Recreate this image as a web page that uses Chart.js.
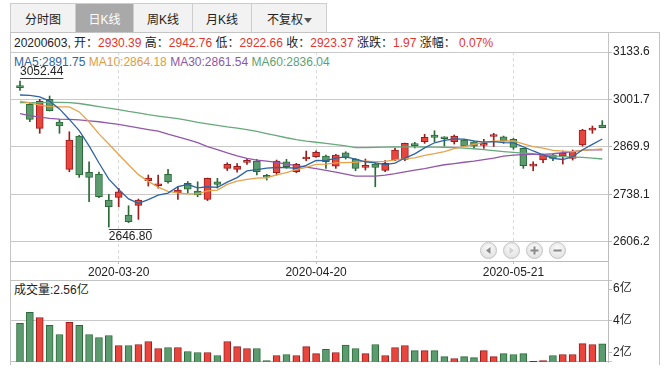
<!DOCTYPE html>
<html>
<head>
<meta charset="utf-8">
<script src="https://cdn.jsdelivr.net/npm/chart.js@4.4.1/dist/chart.umd.min.js"></script>
<style>
  body { margin: 0; background: #fff; font-family: "Liberation Sans", Arial, "Noto Sans CJK SC", sans-serif; font-size: 12px; color: #222; }
  #wrap { position: relative; width: 669px; height: 377px; overflow: hidden; }
  .ln { position: absolute; background: #c4c4c4; }
  .tab { position: absolute; top: 3px; height: 29px; line-height: 33px; text-align: center; background: #f2f2f2;
         border-left: 1px solid #cdcdcd; border-top: 1px solid #cdcdcd; box-sizing: border-box; font-size: 12px; color: #222; }
  .tab.on { background: #a9a9a9; color: #fff; }
  .txt { position: absolute; white-space: nowrap; line-height: 14px; }
  .r { color: #e3342c; }
  .btn { position: absolute; top: 242px; width: 17px; height: 17px; border-radius: 50%; box-sizing: border-box;
         border: 1px solid #c2c2c2; background: radial-gradient(circle at 50% 35%, #fafafa, #dcdcdc); }
  canvas { position: absolute; }
</style>
</head>
<body>
<div id="wrap">
  <div class="tab" style="left:10px;width:65px">分时图</div>
  <div class="tab on" style="left:75px;width:58px">日K线</div>
  <div class="tab" style="left:133px;width:59px">周K线</div>
  <div class="tab" style="left:192px;width:59px">月K线</div>
  <div class="tab" style="left:251px;width:76px;border-right:1px solid #cdcdcd;text-align:left;padding-left:15px">不复权<span style="position:absolute;left:52px;top:14px;width:0;height:0;border-left:4px solid transparent;border-right:4px solid transparent;border-top:5px solid #555"></span></div>

  <div class="ln" style="left:10px;top:32px;width:650px;height:1px"></div>
  <div class="ln" style="left:10px;top:32px;width:1px;height:333px"></div>
  <div class="ln" style="left:659px;top:32px;width:1px;height:333px"></div>
  <div class="ln" style="left:608px;top:32px;width:1px;height:330px"></div>
  <div class="ln" style="left:10px;top:280px;width:602px;height:1px"></div>
  <div class="ln" style="left:10px;top:361px;width:602px;height:1px"></div>

  <div class="txt" style="left:14px;top:36px">20200603, 开：<span class="r">2930.39</span> 高：<span class="r">2942.76</span> 低：<span class="r">2922.66</span> 收：<span class="r">2923.37</span> 涨跌：<span class="r">1.97</span> 涨幅： <span class="r">0.07%</span></div>
  <div class="txt" style="left:14px;top:55px"><span style="color:#2f64a3">MA5:2891.75</span> <span style="color:#e39a3e">MA10:2864.18</span> <span style="color:#8d57a8">MA30:2861.54</span> <span style="color:#5c9f72">MA60:2836.04</span></div>
  <div class="txt" style="left:14px;top:283px">成交量:2.56亿</div>

  <canvas id="main" width="649" height="236" style="left:10px;top:44px"></canvas>
  <canvas id="vol" width="649" height="93" style="left:10px;top:272px"></canvas>

  <div class="btn" style="left:480px"><svg width="15" height="15"><path d="M9.5 4 L5 7.5 L9.5 11 Z" fill="#8a8a8a"/></svg></div>
  <div class="btn" style="left:503px"><svg width="15" height="15"><path d="M5.5 4 L10 7.5 L5.5 11 Z" fill="#d2d2d2"/></svg></div>
  <div class="btn" style="left:526px"><svg width="15" height="15"><path d="M3.5 7.5 H11.5 M7.5 3.5 V11.5" stroke="#8a8a8a" stroke-width="2"/></svg></div>
  <div class="btn" style="left:549px"><svg width="15" height="15"><path d="M3.5 7.5 H11.5" stroke="#8a8a8a" stroke-width="2"/></svg></div>
</div>

<script>
const dates = ['2020-03-06','2020-03-09','2020-03-10','2020-03-11','2020-03-12','2020-03-13','2020-03-16','2020-03-17','2020-03-18','2020-03-19',
  '2020-03-20','2020-03-23','2020-03-24','2020-03-25','2020-03-26','2020-03-27','2020-03-30','2020-03-31','2020-04-01','2020-04-02',
  '2020-04-03','2020-04-07','2020-04-08','2020-04-09','2020-04-10','2020-04-13','2020-04-14','2020-04-15','2020-04-16','2020-04-17',
  '2020-04-20','2020-04-21','2020-04-22','2020-04-23','2020-04-24','2020-04-27','2020-04-28','2020-04-29','2020-04-30','2020-05-06',
  '2020-05-07','2020-05-08','2020-05-11','2020-05-12','2020-05-13','2020-05-14','2020-05-15','2020-05-18','2020-05-19','2020-05-20',
  '2020-05-21','2020-05-22','2020-05-25','2020-05-26','2020-05-27','2020-05-28','2020-05-29','2020-06-01','2020-06-02','2020-06-03'];

const open = [3039.9, 2988.1, 2921.4, 3002.0, 2938.9, 2807.3, 2899.9, 2799.0, 2794.2, 2721.9,
  2729.4, 2680.2, 2707.2, 2775.6, 2761.7, 2793.7, 2742.2, 2768.4, 2747.0, 2723.9,
  2772.8, 2810.1, 2807.3, 2826.8, 2830.4, 2786.2, 2797.9, 2828.5, 2800.6, 2836.0,
  2842.4, 2844.3, 2816.5, 2853.5, 2836.0, 2812.9, 2822.1, 2804.5, 2833.2, 2835.1,
  2877.1, 2884.1, 2902.7, 2896.3, 2884.1, 2888.8, 2884.1, 2874.1, 2898.6, 2898.0,
  2890.8, 2865.7, 2816.5, 2833.2, 2847.1, 2844.3, 2837.9, 2874.9, 2916.6, 2930.39];
const high = [3052.44, 2992.6, 3002.0, 3011.2, 2946.4, 2911.9, 2902.0, 2828.5, 2799.8, 2737.8,
  2754.5, 2706.1, 2724.7, 2791.5, 2791.5, 2807.3, 2758.9, 2773.4, 2772.8, 2783.1,
  2782.3, 2825.7, 2823.5, 2837.4, 2835.1, 2793.4, 2833.2, 2835.1, 2824.0, 2858.2,
  2859.1, 2847.1, 2849.0, 2856.3, 2837.4, 2836.0, 2825.7, 2831.8, 2865.7, 2880.5,
  2882.4, 2904.7, 2914.7, 2898.0, 2902.7, 2890.8, 2885.0, 2890.8, 2907.5, 2899.9,
  2893.6, 2866.0, 2828.5, 2849.9, 2849.9, 2858.2, 2861.0, 2918.6, 2927.8, 2942.76];
const low = [3027.0, 2939.7, 2907.5, 2969.5, 2907.5, 2800.6, 2785.1, 2717.2, 2728.9, 2646.80,
  2703.3, 2659.3, 2668.2, 2760.9, 2755.3, 2769.2, 2723.9, 2741.4, 2731.1, 2720.5,
  2755.3, 2804.0, 2799.8, 2820.7, 2791.5, 2777.6, 2791.5, 2810.1, 2797.9, 2831.2,
  2840.7, 2810.1, 2810.1, 2836.0, 2803.4, 2805.4, 2758.9, 2800.6, 2831.2, 2831.2,
  2866.6, 2879.6, 2884.1, 2872.1, 2877.7, 2870.2, 2865.7, 2865.7, 2870.9, 2879.6,
  2863.0, 2810.1, 2803.4, 2825.7, 2831.2, 2822.1, 2833.2, 2872.1, 2907.5, 2922.66];
const close = [3034.5, 2946.4, 2997.3, 2970.3, 2927.8, 2888.8, 2791.5, 2785.1, 2731.1, 2703.3,
  2745.0, 2661.6, 2721.9, 2783.1, 2767.0, 2773.4, 2749.7, 2752.5, 2736.4, 2782.3,
  2765.6, 2821.5, 2815.9, 2829.9, 2800.6, 2785.3, 2830.4, 2814.5, 2821.2, 2840.1,
  2854.6, 2828.5, 2847.1, 2839.6, 2810.1, 2816.5, 2812.9, 2824.0, 2861.0, 2879.6,
  2873.5, 2896.3, 2896.3, 2892.4, 2899.9, 2872.1, 2872.1, 2877.7, 2899.9, 2886.9,
  2868.5, 2817.3, 2819.3, 2847.1, 2837.9, 2851.8, 2856.3, 2916.6, 2921.4, 2923.37];

// volume in 亿
const volume = [3.84, 4.53, 4.21, 3.71, 3.14, 3.90, 3.71, 3.14, 2.95, 3.08,
  2.45, 2.45, 2.51, 2.70, 2.26, 2.32, 2.32, 2.07, 2.01, 2.01,
  1.82, 2.70, 2.38, 2.26, 2.26, 1.50, 1.82, 1.88, 1.82, 2.38,
  1.94, 2.20, 2.01, 2.47, 2.26, 1.94, 2.51, 1.82, 2.32, 2.45,
  2.13, 2.13, 2.13, 1.75, 1.63, 1.75, 1.69, 2.13, 1.75, 1.94,
  1.88, 1.94, 1.46, 1.50, 1.82, 1.88, 1.88, 2.57, 2.51, 2.56];

const ma5 = [3014.0, 3013.0, 3009.0, 2997.0, 2975.4, 2946.1, 2915.1, 2872.7, 2824.9, 2780.0,
  2751.2, 2725.2, 2712.6, 2723.0, 2735.7, 2741.4, 2759.0, 2765.1, 2755.8, 2758.9,
  2757.3, 2771.7, 2784.3, 2803.0, 2806.7, 2810.6, 2812.4, 2812.1, 2810.4, 2818.3,
  2832.2, 2831.8, 2838.3, 2842.0, 2836.0, 2828.4, 2825.2, 2820.6, 2824.9, 2838.8,
  2850.2, 2866.9, 2881.3, 2887.6, 2891.7, 2891.4, 2886.6, 2882.8, 2884.3, 2881.7,
  2881.0, 2870.1, 2858.4, 2847.8, 2838.0, 2834.7, 2842.5, 2861.9, 2876.8, 2891.75];
const ma10 = [2997.0, 2992.0, 2986.0, 2982.0, 2981.0, 2981.0, 2967.0, 2939.0, 2906.0, 2877.7,
  2848.7, 2820.2, 2792.6, 2773.9, 2757.8, 2746.3, 2742.1, 2738.9, 2739.4, 2747.3,
  2749.4, 2765.3, 2774.7, 2779.4, 2782.8, 2784.0, 2792.0, 2798.2, 2806.7, 2812.5,
  2821.4, 2822.1, 2825.2, 2826.2, 2827.1, 2830.3, 2828.5, 2829.5, 2833.4, 2837.4,
  2839.3, 2846.1, 2851.0, 2856.3, 2865.2, 2870.8, 2876.7, 2882.1, 2886.0, 2886.7,
  2886.2, 2878.3, 2870.6, 2866.1, 2859.9, 2857.9, 2856.3, 2860.2, 2862.3, 2864.18];
const ma30 = [2962.5, 2956.4, 2952.8, 2949.2, 2947.2, 2946.1, 2945.0, 2942.2, 2939.7, 2936.1,
  2932.5, 2927.8, 2922.8, 2918.0, 2913.3, 2905.0, 2897.7, 2890.2, 2881.9, 2870.7,
  2862.4, 2853.2, 2844.9, 2837.9, 2833.2, 2830.4, 2826.8, 2822.1, 2817.9, 2813.7,
  2809.5, 2804.5, 2799.8, 2794.2, 2788.7, 2788.7, 2788.7, 2791.5, 2795.6, 2800.4,
  2805.4, 2809.5, 2815.1, 2820.1, 2823.5, 2827.1, 2830.4, 2834.6, 2838.8, 2844.3,
  2847.1, 2848.5, 2849.0, 2849.0, 2850.7, 2853.5, 2856.8, 2860.2, 2862.4, 2861.54];
const ma60 = [2992.6, 2992.6, 2993.1, 2993.7, 2993.7, 2992.9, 2990.4, 2986.2, 2982.0, 2977.8,
  2973.4, 2968.4, 2964.5, 2959.5, 2955.6, 2951.7, 2948.3, 2943.6, 2938.0, 2933.9,
  2929.7, 2925.5, 2922.2, 2918.0, 2912.7, 2906.9, 2901.3, 2895.2, 2890.2, 2886.0,
  2882.7, 2879.6, 2876.3, 2872.7, 2868.0, 2867.6, 2868.4, 2869.0, 2869.4, 2869.6,
  2869.6, 2869.4, 2869.2, 2868.8, 2868.0, 2866.6, 2864.6, 2862.0, 2859.1, 2856.6,
  2854.6, 2852.7, 2850.7, 2846.5, 2844.6, 2842.9, 2841.5, 2840.4, 2838.8, 2836.04];

const priceTicks = [2606.2, 2738.1, 2869.9, 3001.7, 3133.6];
const volumeTicks = [2, 4, 6];
const tickDates = ['2020-03-20', '2020-04-20', '2020-05-21'];

const RED = '#e8453c', RED_EDGE = '#9c1b1b';
const GREEN = '#5b9b6f', GREEN_EDGE = '#2a6a36';
const GRID = '#c9c9c9', AXIS = '#bcbcbc';

const up = dates.map((d, i) => close[i] >= open[i]);
const fills = up.map(u => u ? RED : GREEN);
const edges = up.map(u => u ? RED_EDGE : GREEN_EDGE);

const xMin = -1.013, xMax = 59.58;

Chart.defaults.font.family = '"Liberation Sans", Arial, "Noto Sans CJK SC", sans-serif';
Chart.defaults.font.size = 12;
Chart.defaults.color = '#222';

function maLine(values, color) {
  return {
    type: 'line',
    data: values.map((v, i) => ({ x: i, y: v })),
    borderColor: color,
    borderWidth: 1.3,
    pointRadius: 0,
    fill: false,
    order: 0
  };
}

const extremaLabels = {
  id: 'extremaLabels',
  afterDatasetsDraw(chart) {
    const { ctx, scales: { x, y } } = chart;
    const hi = Math.max(...high), lo = Math.min(...low);
    const hx = x.getPixelForValue(high.indexOf(hi)), hy = y.getPixelForValue(hi);
    const lx = x.getPixelForValue(low.indexOf(lo)), ly = y.getPixelForValue(lo);
    ctx.save();
    ctx.font = '12px "Liberation Sans", Arial';
    ctx.fillStyle = '#222';
    ctx.strokeStyle = '#444';
    ctx.lineWidth = 1;
    const t1 = hi.toFixed(2), w1 = ctx.measureText(t1).width;
    ctx.textBaseline = 'bottom';
    ctx.fillText(t1, hx, hy - 4);
    ctx.beginPath();
    ctx.moveTo(hx, Math.round(hy - 3) + 0.5);
    ctx.lineTo(hx + w1, Math.round(hy - 3) + 0.5);
    ctx.stroke();
    const t2 = lo.toFixed(2), w2 = ctx.measureText(t2).width;
    ctx.textBaseline = 'top';
    ctx.fillText(t2, lx, ly + 4);
    ctx.beginPath();
    ctx.moveTo(lx, Math.round(ly + 2) + 0.5);
    ctx.lineTo(lx + w2, Math.round(ly + 2) + 0.5);
    ctx.stroke();
    ctx.restore();
  }
};

new Chart(document.getElementById('main'), {
  type: 'bar',
  data: {
    datasets: [
      maLine(ma5, '#2f64a3'),
      maLine(ma10, '#e8a24a'),
      maLine(ma30, '#9257ab'),
      maLine(ma60, '#66a97c'),
      {
        type: 'bar',
        data: dates.map((d, i) => ({ x: i, y: [open[i], close[i]] })),
        backgroundColor: fills,
        borderColor: edges,
        borderWidth: 1,
        borderSkipped: false,
        barThickness: 7,
        minBarLength: 2,
        grouped: false,
        order: 5
      },
      {
        type: 'bar',
        data: dates.map((d, i) => ({ x: i, y: [low[i], high[i]] })),
        backgroundColor: edges,
        borderWidth: 0,
        barThickness: 1,
        grouped: false,
        order: 6
      }
    ]
  },
  options: {
    responsive: false,
    animation: false,
    events: [],
    devicePixelRatio: 1,
    layout: { padding: { top: 8, left: 0, right: 0, bottom: 0 } },
    plugins: { legend: { display: false }, tooltip: { enabled: false } },
    scales: {
      x: {
        type: 'linear',
        min: xMin,
        max: xMax,
        offset: false,
        grid: { color: '#d9d9d9', offset: false, tickLength: 3, tickColor: AXIS },
        border: { display: true, color: AXIS, dash: [3, 3] },
        ticks: { autoSkip: false, maxRotation: 0, padding: 1, callback: v => dates[v] },
        afterBuildTicks: axis => { axis.ticks = tickDates.map(d => ({ value: dates.indexOf(d) })); },
        afterFit: axis => { axis.height = 19; axis.paddingLeft = 0; axis.paddingRight = 0; }
      },
      y: {
        position: 'right',
        min: 2552.5,
        max: 3133.6,
        beginAtZero: false,
        grid: { color: GRID, tickLength: 4, tickColor: AXIS },
        border: { display: true, color: AXIS },
        ticks: { padding: 1, callback: v => v.toFixed(1) },
        afterBuildTicks: axis => { axis.ticks = priceTicks.map(v => ({ value: v })); },
        afterFit: axis => { axis.width = 51; axis.paddingTop = 0; axis.paddingBottom = 0; }
      }
    }
  },
  plugins: [extremaLabels]
});

new Chart(document.getElementById('vol'), {
  type: 'bar',
  data: {
    datasets: [{
      data: volume.map((v, i) => ({ x: i, y: v })),
      backgroundColor: fills,
      borderColor: edges,
      borderWidth: 1,
      borderSkipped: false,
      barThickness: 7,
      grouped: false
    }]
  },
  options: {
    responsive: false,
    animation: false,
    events: [],
    devicePixelRatio: 1,
    layout: { padding: { top: 8, left: 0, right: 0, bottom: 3 } },
    plugins: { legend: { display: false }, tooltip: { enabled: false } },
    scales: {
      x: { type: 'linear', min: xMin, max: xMax, offset: false, display: false },
      y: {
        position: 'right',
        min: 1.41,
        max: 6.57,
        beginAtZero: false,
        grid: {
          color: c => (c.tick && c.tick.value === 4) ? GRID : 'rgba(0,0,0,0)',
          tickLength: 4,
          tickColor: AXIS
        },
        border: { display: true, color: AXIS },
        ticks: { padding: 1, callback: v => v + '亿' },
        afterBuildTicks: axis => { axis.ticks = volumeTicks.map(v => ({ value: v })); },
        afterFit: axis => { axis.width = 51; axis.paddingTop = 0; axis.paddingBottom = 0; }
      }
    }
  }
});
</script>
</body>
</html>
